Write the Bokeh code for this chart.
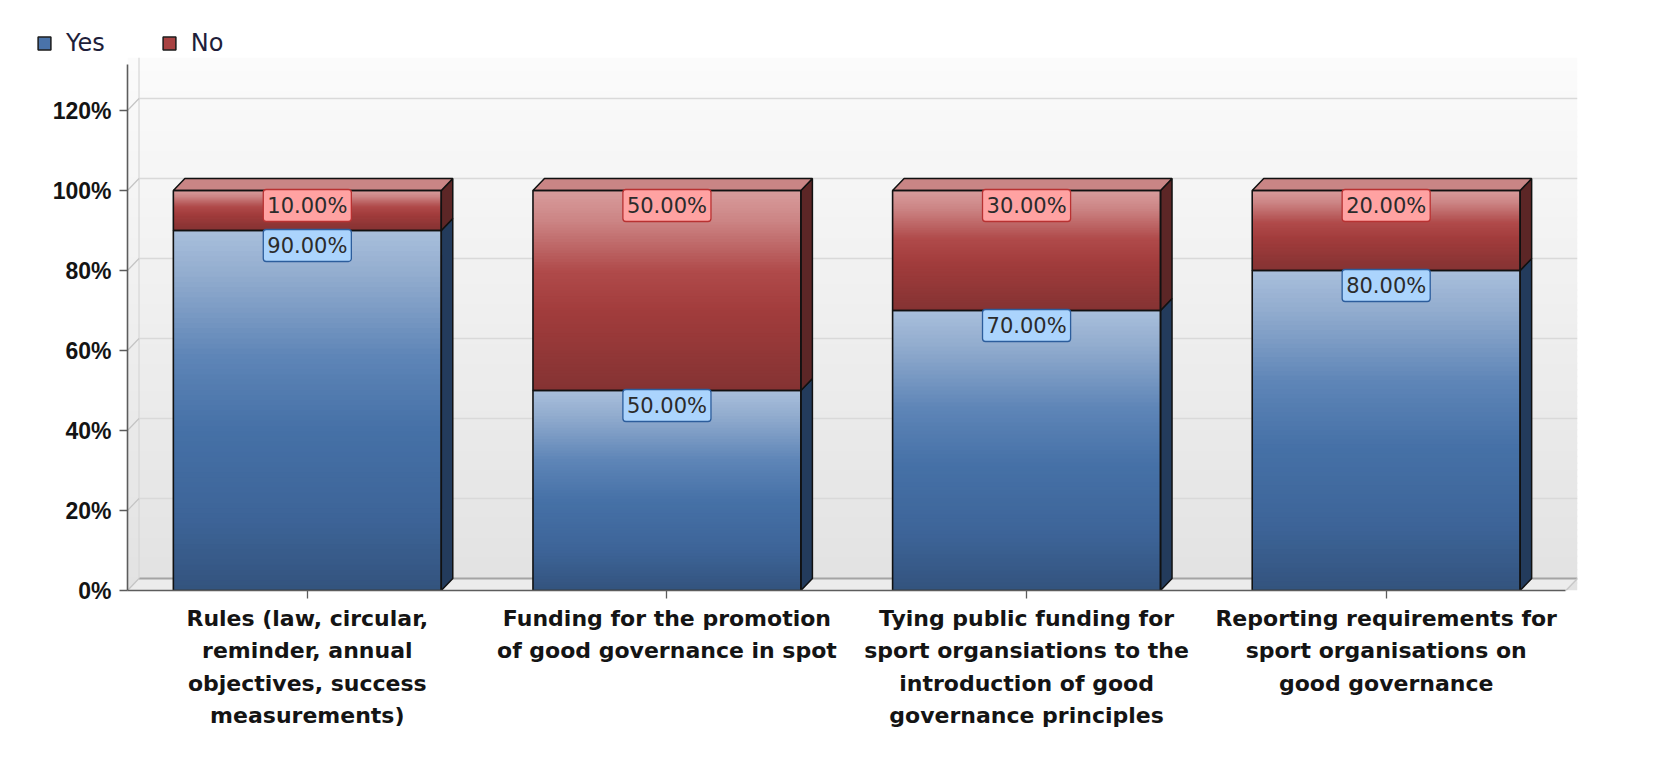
from bokeh.plotting import figure
from bokeh.layouts import column
from bokeh.models import FixedTicker, Range1d, Legend, LegendItem
from bokeh.embed import file_html
from bokeh.resources import INLINE
from bokeh.core.properties import value

# ---------------- data ----------------
categories = [
    "Rules (law, circular,\nreminder, annual\nobjectives, success\nmeasurements)",
    "Funding for the promotion\nof good governance in spot",
    "Tying public funding for\nsport organsiations to the\nintroduction of good\ngovernance principles",
    "Reporting requirements for\nsport organisations on\ngood governance",
]
series_names = ["Yes", "No"]
yes_values = [90.0, 50.0, 70.0, 80.0]
no_values = [10.0, 50.0, 30.0, 20.0]
y_ticks = [0, 20, 40, 60, 80, 100, 120]
y_tick_labels = ["0%", "20%", "40%", "60%", "80%", "100%", "120%"]

# ---------------- style ----------------
W = 1656
H_LEG = 57
H_MAIN = 700
BAR_W = 0.745
DX, DY = 0.032, 3.0          # 3-D depth (x in category units, y in %)
YRANGE_TOP = 133.25
YTOP = 131.5
N_CAT = len(categories)
YES_COLOR = "#4a73aa"
NO_COLOR = "#a84242"

BLUE_STOPS = [(0.0, "#a9bfdc"), (0.12, "#93adcf"), (0.35, "#5e85b7"),
              (0.55, "#4671a7"), (0.8, "#3d6498"), (1.0, "#33537d")]
RED_STOPS = [(0.0, "#d89c9c"), (0.15, "#cc8585"), (0.4, "#b04b4b"),
             (0.6, "#a23c3c"), (1.0, "#843333")]
BG_STOPS = [(0.0, "#fbfbfb"), (1.0, "#e2e2e2")]


def hex2rgb(h):
    h = h.lstrip("#")
    return tuple(int(h[i:i + 2], 16) for i in (0, 2, 4))


def grad(stops, t):
    t = min(max(t, 0.0), 1.0)
    for (t0, c0), (t1, c1) in zip(stops[:-1], stops[1:]):
        if t <= t1:
            f = 0.0 if t1 == t0 else (t - t0) / (t1 - t0)
            a, b = hex2rgb(c0), hex2rgb(c1)
            return "#%02x%02x%02x" % tuple(int(round(a[i] + (b[i] - a[i]) * f)) for i in range(3))
    return stops[-1][1]


# ================= legend strip (own small figure above the chart) =================
leg = figure(width=W, height=H_LEG, x_range=Range1d(0, 1), y_range=Range1d(0, 1),
             output_backend="svg", toolbar_location=None,
             x_axis_location=None, y_axis_location=None,
             min_border_left=0, min_border_right=0, min_border_top=0, min_border_bottom=0)
leg.frame_align = False
leg.outline_line_color = None
leg.xgrid.visible = False
leg.ygrid.visible = False
leg.background_fill_color = "white"
leg.border_fill_color = "white"
lr_yes = leg.quad(left=[5], right=[6], bottom=[5], top=[6], fill_color=YES_COLOR,
                  line_color="#1a1a1a", line_width=1.5)
lr_no = leg.quad(left=[5], right=[6], bottom=[5], top=[6], fill_color=NO_COLOR,
                 line_color="#1a1a1a", line_width=1.5)
legend = Legend(items=[LegendItem(label=series_names[0], renderers=[lr_yes]),
                       LegendItem(label=series_names[1], renderers=[lr_no])],
                location=(36, 0), orientation="horizontal",
                border_line_color=None, background_fill_alpha=0,
                padding=0, margin=0, spacing=56, label_standoff=14,
                glyph_width=16, glyph_height=16,
                label_text_font="DejaVu Sans", label_text_font_size="24px",
                label_text_color="#1e1e3a", label_text_baseline="middle")
leg.add_layout(legend)

# ================= main chart =================
p = figure(width=W, height=H_MAIN, x_range=Range1d(0, N_CAT + DX), y_range=Range1d(0, YRANGE_TOP),
           output_backend="svg", toolbar_location=None,
           min_border_left=127, min_border_right=79, min_border_top=0, min_border_bottom=167)
p.frame_align = False
p.outline_line_color = None
p.background_fill_color = "white"
p.border_fill_color = "white"
p.xgrid.visible = False
p.ygrid.visible = False

# ---- back wall gradient ----
NB = 80
top_all = YRANGE_TOP
bl, br, bb, bt, bc = [], [], [], [], []
for k in range(NB):
    y0 = top_all * k / NB
    y1 = top_all * (k + 1) / NB + 0.4
    bl.append(0); br.append(N_CAT + DX); bb.append(y0); bt.append(min(y1, top_all))
    bc.append(grad(BG_STOPS, 1 - (k + 0.5) / NB))
p.quad(left=bl, right=br, bottom=bb, top=bt, fill_color=bc, line_color=None)

# floor
p.patch([0, N_CAT, N_CAT + DX, DX], [0, 0, DY, DY], fill_color="#ececec", line_color=None)
p.line([DX, N_CAT + DX], [DY, DY], line_color="#a4a4a4", line_width=2)
p.line([N_CAT, N_CAT + DX], [0, DY], line_color="#c8c8c8", line_width=1.5)
# left wall back edge
p.line([DX, DX], [DY, top_all], line_color="#d6d6d6", line_width=1.2)

# back-wall grid lines + left-wall diagonals
for v in y_ticks[1:]:
    p.line([DX, N_CAT + DX], [v + DY, v + DY], line_color="#d9d9d9", line_width=1.6)
for v in y_ticks:
    p.line([0, DX], [v, v + DY], line_color="#c4c4c4", line_width=1.2)

# ---- bars ----
NS = 70
centers = [i + 0.5 for i in range(N_CAT)]
fl, fr, fb, ft, fc = [], [], [], [], []
ol, orr, ob, ot = [], [], [], []
sxs, sys_, scol = [], [], []
txs, tys = [], []
for i, c in enumerate(centers):
    segs = [(0.0, yes_values[i], BLUE_STOPS, "#233b5c"),
            (yes_values[i], yes_values[i] + no_values[i], RED_STOPS, "#5c2626")]
    for (b, t, stops, side) in segs:
        for k in range(NS):
            y0 = b + (t - b) * k / NS
            y1 = b + (t - b) * (k + 1) / NS
            if k < NS - 1:
                y1 += 0.4
            fl.append(c - BAR_W / 2); fr.append(c + BAR_W / 2)
            fb.append(y0); ft.append(min(y1, t))
            fc.append(grad(stops, 1 - (k + 0.5) / NS))
        ol.append(c - BAR_W / 2); orr.append(c + BAR_W / 2); ob.append(b); ot.append(t)
        sxs.append([c + BAR_W / 2, c + BAR_W / 2 + DX, c + BAR_W / 2 + DX, c + BAR_W / 2])
        sys_.append([b, b + DY, t + DY, t])
        scol.append(side)
    tt = yes_values[i] + no_values[i]
    txs.append([c - BAR_W / 2, c - BAR_W / 2 + DX, c + BAR_W / 2 + DX, c + BAR_W / 2])
    tys.append([tt, tt + DY, tt + DY, tt])

p.quad(left=fl, right=fr, bottom=fb, top=ft, fill_color=fc, line_color=None)
p.patches(sxs, sys_, fill_color=scol, line_color="#111111", line_width=1.5)
p.patches(txs, tys, fill_color="#c98585", line_color="#111111", line_width=1.5)
p.quad(left=ol, right=orr, bottom=ob, top=ot, fill_color=None, line_color="#111111", line_width=1.6)

# ---- data labels ----
yes_tops = yes_values
no_tops = [a + b for a, b in zip(yes_values, no_values)]
p.text(x=centers, y=no_tops, text=["%.2f%%" % v for v in no_values],
       text_align="center", text_baseline="middle", y_offset=15,
       text_font=value("DejaVu Sans"), text_font_size="21px", text_color="#2b2b2b",
       background_fill_color="#ffa2a2", border_line_color="#b83232", border_line_width=1.3,
       padding=4, border_radius=3)
p.text(x=centers, y=yes_tops, text=["%.2f%%" % v for v in yes_values],
       text_align="center", text_baseline="middle", y_offset=15,
       text_font=value("DejaVu Sans"), text_font_size="21px", text_color="#2b2b2b",
       background_fill_color="#abd4fd", border_line_color="#2c5d9c", border_line_width=1.3,
       padding=4, border_radius=3)

# ---- axes ----
p.xaxis.ticker = FixedTicker(ticks=centers)
p.xaxis.major_label_overrides = {c: lab for c, lab in zip(centers, categories)}
p.xaxis.bounds = (0, N_CAT)
p.xaxis.major_label_text_font = "DejaVu Sans"
p.xaxis.major_label_text_font_style = "bold"
p.xaxis.major_label_text_font_size = "22px"
p.xaxis.major_label_text_color = "#141414"
p.xaxis.major_label_text_line_height = 1.3
p.xaxis.major_label_standoff = 7
p.yaxis.ticker = FixedTicker(ticks=y_ticks)
p.yaxis.major_label_overrides = {v: lab for v, lab in zip(y_ticks, y_tick_labels)}
p.yaxis.bounds = (0, YTOP)
p.yaxis.major_label_text_font = "Liberation Sans"
p.yaxis.major_label_text_font_style = "bold"
p.yaxis.major_label_text_font_size = "23px"
p.yaxis.major_label_text_color = "#141414"
p.yaxis.major_label_standoff = 8
for ax in (p.xaxis, p.yaxis):
    ax.axis_line_color = "#5c5c5c"
    ax.axis_line_width = 1.6
    ax.major_tick_line_color = "#5c5c5c"
    ax.major_tick_line_width = 1.3
    ax.major_tick_out = 8
    ax.major_tick_in = 0
    ax.minor_tick_out = 0
    ax.minor_tick_in = 0

layout = column(leg, p, spacing=0)
open("out.html", "w").write(file_html(layout, INLINE))
